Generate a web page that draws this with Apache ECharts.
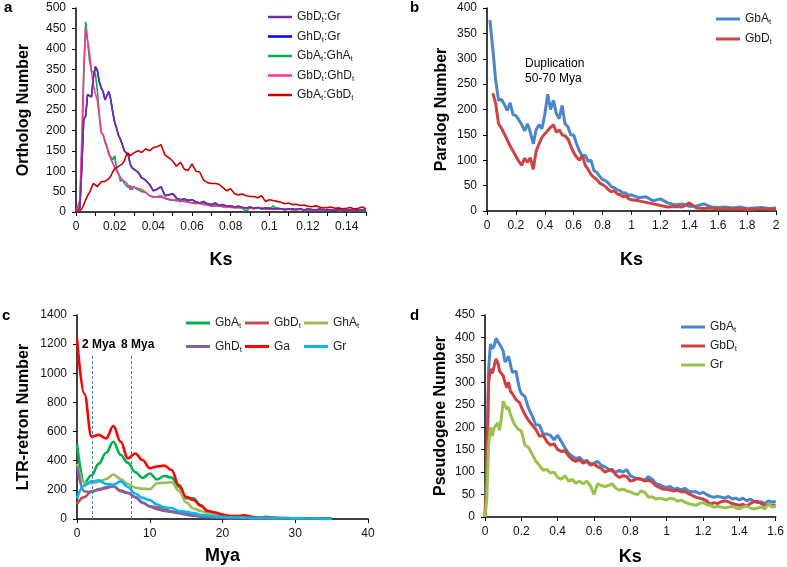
<!DOCTYPE html>
<html><head><meta charset="utf-8">
<script src="https://cdn.jsdelivr.net/npm/echarts@6/dist/echarts.min.js"></script>
<style>html,body{margin:0;padding:0;background:#fff}#c{width:787px;height:567px}</style>
</head><body><div id="c"></div>
<script>
// ---------- Panel a : Ortholog Ks ----------
const aKs = [0,0.001,0.002,0.003,0.004,0.005,0.006,0.007,0.008,0.009,0.010,0.011,0.012,0.013,0.014,0.015,0.016,0.017,0.018,0.019,0.020,0.021,0.022,0.023,0.024,0.025,0.026,0.027,0.028,0.029,0.030,
0.032,0.034,0.036,0.038,0.040,0.042,0.044,0.046,0.048,0.050,0.052,0.054,0.056,0.058,0.060,0.062,0.064,0.066,0.068,0.070,0.072,0.074,0.076,0.078,0.080,0.082,0.084,0.086,0.088,0.090,0.092,0.094,0.096,0.098,0.100,0.102,0.104,0.106,0.108,0.110,0.112,0.114,0.116,0.118,0.120,0.122,0.124,0.126,0.128,0.130,0.132,0.134,0.136,0.138,0.140,0.142,0.144,0.146,0.148,0.150];
const aGbDtGr = [0,0,10,110,228,235,288,292,282,330,356,348,320,305,295,275,285,295,275,245,220,205,188,178,165,150,150,140,118,108,112,
98,84,78,68,52,56,62,40,42,45,34,30,32,28,30,25,22,26,20,18,22,16,18,14,15,12,14,11,10,12,9,11,8,10,9,7,9,8,6,8,7,6,8,5,7,6,5,7,5,6,5,4,6,5,4,5,6,4,5,4];
const aGhDtGr = [0,0,10,110,228,235,288,292,282,330,356,348,320,305,295,275,285,295,275,245,220,205,188,178,165,150,150,140,118,108,112,
98,84,78,68,52,56,62,40,42,45,34,30,32,28,30,25,22,26,20,18,22,16,18,14,15,12,14,11,10,12,9,11,8,10,9,7,9,8,6,8,7,6,8,5,7,6,5,7,5,6,5,4,6,5,4,5,6,4,5,4];
const aGbAtGhAt = [0,0,20,150,330,466,420,370,345,345,340,300,240,195,190,170,160,140,135,128,138,105,95,75,80,70,68,60,65,55,62,
55,50,48,40,36,38,40,33,30,28,30,25,28,25,22,24,20,22,18,15,18,14,15,12,14,10,12,9,3,10,8,11,7,9,6,15,6,8,5,7,6,5,8,4,6,5,4,6,3,5,4,6,3,5,4,3,5,3,4,3];
const aGbDtGhDt = [0,0,30,180,350,450,420,390,345,310,290,275,240,195,190,175,160,145,130,120,110,100,92,85,78,80,72,65,55,62,66,
58,55,48,40,38,37,36,34,32,30,27,28,25,24,22,20,22,18,17,15,14,16,12,13,11,12,10,12,9,10,8,9,10,7,8,6,8,7,6,8,5,7,6,5,7,5,4,6,5,4,6,5,4,5,6,4,5,4,5,4];
const aGbAtGbDt = [0,0,3,8,18,30,40,48,50,70,66,62,65,74,72,75,78,82,88,98,106,108,112,110,118,125,140,145,138,142,145,
150,146,155,150,158,160,165,140,133,125,112,122,105,102,118,100,98,78,72,70,70,68,60,52,57,45,42,44,40,38,38,35,40,26,30,28,26,24,20,22,18,19,16,17,14,13,15,12,10,11,12,9,10,8,9,11,7,9,12,8];

// ---------- Panel b : Paralog Ks ----------
const bKs = [0.02,0.04,0.06,0.08,0.10,0.12,0.14,0.16,0.18,0.20,0.22,0.24,0.26,0.28,0.30,0.32,0.34,0.36,0.38,0.40,0.42,0.44,0.46,0.48,0.50,0.52,0.54,0.56,0.58,0.60,0.62,0.64,0.66,0.68,0.70,0.72,0.74,0.76,0.78,0.80,0.82,0.84,0.86,0.88,0.90,0.92,0.94,0.96,0.98,1.00,
1.05,1.10,1.15,1.20,1.25,1.30,1.35,1.40,1.45,1.50,1.55,1.60,1.65,1.70,1.75,1.80,1.85,1.90,1.95,2.00];
const bGbAt = [376,320,258,218,220,210,198,213,190,188,180,170,158,172,155,132,160,170,162,190,230,200,218,192,182,208,172,166,150,150,132,118,108,110,98,100,80,76,68,62,60,55,48,46,42,40,35,36,30,32,
26,28,20,24,16,12,14,9,10,14,8,7,8,6,8,5,6,7,5,6];
const bGbDt = [null,232,212,172,163,152,140,128,118,108,98,90,104,96,105,82,118,132,145,152,158,165,170,155,160,150,148,142,128,115,106,100,110,90,82,72,66,62,55,52,48,42,38,40,34,32,28,30,24,22,
20,17,14,11,8,9,8,16,6,5,6,4,5,4,5,3,4,5,4,4];

// ---------- Panel c : LTR-retron insertion time ----------
const cMya = [0,1,2,3,4,5,6,7,8,9,10,11,12,13,14,15,16,17,18,19,20,21,22,23,24,25,26,27,28,29,30,31,32,33,34,35];
const cGbAt = [515,250,300,380,455,530,440,385,322,282,312,272,295,284,222,142,142,96,52,38,25,20,20,15,12,10,14,8,6,5,4,4,3,3,2,2];
const cGbDt = [103,150,190,200,212,225,190,178,150,110,88,80,65,52,45,45,30,25,18,15,10,8,10,12,8,6,6,5,4,4,3,3,2,2,2,1];
const cGhAt = [377,250,245,255,275,305,275,240,215,208,205,245,248,252,195,115,72,55,40,28,20,15,12,10,10,8,15,8,5,4,3,3,3,2,2,2];
const cGhDt = [360,190,185,205,218,225,195,180,150,115,85,68,55,48,40,30,22,16,12,10,8,6,5,5,4,4,3,3,3,2,2,2,2,1,1,1];
const cGa = [1240,860,565,577,553,638,530,416,450,405,348,360,366,336,233,153,130,90,55,45,30,20,20,25,15,10,10,8,6,6,5,5,4,3,3,2];
const cGr = [142,230,258,265,240,235,258,220,175,145,130,100,80,75,55,50,40,28,22,18,15,12,12,10,8,8,7,6,5,5,4,4,3,3,2,2];
const cMarkers = [2.05, 7.45];
const cMarkerTop = 1125;

// ---------- Panel d : Pseudogene Ks ----------
const dKs = [0,0.01,0.02,0.03,0.04,0.05,0.06,0.07,0.08,0.09,0.10,0.11,0.12,0.13,0.14,0.15,0.16,0.17,0.18,0.19,0.20,
0.22,0.24,0.26,0.28,0.30,0.32,0.34,0.36,0.38,0.40,0.42,0.44,0.46,0.48,0.50,0.52,0.54,0.56,0.58,0.60,0.62,0.64,0.66,0.68,0.70,0.72,0.74,0.76,0.78,0.80,0.82,0.84,0.86,0.88,0.90,0.92,0.94,0.96,0.98,1.00,1.02,1.04,1.06,1.08,1.10,1.12,1.14,1.16,1.18,1.20,1.22,1.24,1.26,1.28,1.30,1.32,1.34,1.36,1.38,1.40,1.42,1.44,1.46,1.48,1.50,1.52,1.54,1.56,1.58,1.60];
const dGbAt = [0,120,330,385,375,380,398,402,385,378,370,345,352,358,340,322,318,325,305,285,275,
268,242,225,205,205,185,185,182,172,182,168,154,142,135,130,133,124,126,118,120,124,115,112,106,102,100,104,100,106,92,88,85,84,82,90,84,74,72,68,66,68,62,64,60,64,58,56,57,52,55,50,46,44,46,44,42,46,40,42,38,42,36,40,35,32,34,30,36,33,35];
const dGbDt = [0,100,300,330,320,335,352,345,325,320,315,300,288,300,280,275,272,262,258,255,245,
228,215,205,195,180,182,168,160,163,150,146,148,136,128,124,128,120,124,116,118,112,108,100,104,106,94,88,92,90,80,82,86,84,80,82,78,70,66,62,62,60,58,60,56,57,52,48,44,42,40,36,28,32,30,34,36,34,30,28,26,28,24,30,34,35,30,26,28,25,27];
const dGr = [0,40,160,200,180,198,200,210,193,220,258,255,240,245,228,230,208,210,196,195,192,
160,155,140,124,115,104,106,98,100,88,84,92,80,84,75,80,74,80,70,50,74,70,68,70,74,64,60,62,58,56,52,50,58,55,44,45,40,42,40,38,42,40,35,38,33,30,28,26,30,32,28,26,22,24,22,20,22,24,20,18,22,24,20,18,20,22,18,30,22,24];

// ---------- build ----------
const FF = 'Liberation Sans, Arial, sans-serif';
const pair = (xs, ys) => xs.map((x, i) => [x, ys[i]]);
function line(name, gi, xs, ys, color, width, smooth) {
  return { type: 'line', name: name, xAxisIndex: gi, yAxisIndex: gi, data: pair(xs, ys),
    symbol: 'none', showSymbol: false, smooth: smooth || false, smoothMonotone: smooth ? 'x' : undefined,
    lineStyle: { color: color, width: width }, itemStyle: { color: color }, emphasis: { disabled: true } };
}
const fmtLeg = n => n.split('|')[1].replace(/([AD])t/g, '$1{s|t}');
function leg(names, left, top, gap, thick) {
  return { data: names, left: left, top: top, orient: 'vertical', itemGap: gap, itemWidth: 24, itemHeight: thick,
    icon: 'rect', padding: 0, selectedMode: false, formatter: fmtLeg,
    textStyle: { color: '#222', fontSize: 12, fontFamily: FF, lineHeight: 14,
      rich: { s: { fontSize: 8, fontFamily: FF, color: '#222', lineHeight: 14, verticalAlign: 'bottom' } } } };
}
function xAx(gi, min, max, interval, name, gap, fmt) {
  return { type: 'value', gridIndex: gi, min: min, max: max, interval: interval, name: name,
    nameLocation: 'middle', nameGap: gap,
    nameTextStyle: { fontSize: 18, fontWeight: 'bold', color: '#000', fontFamily: FF },
    axisLine: { show: true, onZero: false, lineStyle: { color: '#000', width: 1.5 } },
    axisTick: { show: true, inside: false, length: 4, lineStyle: { color: '#000', width: 1 } },
    splitLine: { show: false },
    axisLabel: { color: '#111', fontSize: 12, fontFamily: FF, margin: 9, formatter: fmt || (v => String(v)), showMinLabel: true, showMaxLabel: true } };
}
function yAx(gi, max, interval, name, gap) {
  return { type: 'value', gridIndex: gi, min: 0, max: max, interval: interval, name: name,
    nameLocation: 'middle', nameGap: gap,
    nameTextStyle: { fontSize: 16, fontWeight: 'bold', color: '#000', fontFamily: FF },
    axisLine: { show: true, lineStyle: { color: '#000', width: 1.5 } },
    axisTick: { show: true, inside: false, length: 4, lineStyle: { color: '#000', width: 1 } },
    splitLine: { show: false },
    axisLabel: { color: '#111', fontSize: 12, fontFamily: FF, margin: 10, formatter: v => String(v) } };
}
const aFmt = v => { const k = Math.round(v * 1000); return k % 20 === 0 ? String(k / 1000) : ''; };

const series = [
  line('a|GhDt:Gr', 0, aKs, aGhDtGr, '#0000ff', 1.6),
  line('a|GbAt:GhAt', 0, aKs, aGbAtGhAt, '#00b050', 1.6),
  line('a|GbDt:GhDt', 0, aKs, aGbDtGhDt, '#ff3399', 1.6),
  line('a|GbDt:Gr', 0, aKs, aGbDtGr, '#7030a0', 1.6),
  line('a|GbAt:GbDt', 0, aKs, aGbAtGbDt, '#cc0000', 1.6),
  line('b|GbAt', 1, bKs, bGbAt, '#4a86c8', 3),
  line('b|GbDt', 1, bKs, bGbDt, '#cc4444', 3),
  line('c|GbAt', 2, cMya, cGbAt, '#00b050', 2.6, 0.4),
  line('c|GbDt', 2, cMya, cGbDt, '#c0504d', 2.6, 0.4),
  line('c|GhAt', 2, cMya, cGhAt, '#9bbb59', 2.6, 0.4),
  line('c|GhDt', 2, cMya, cGhDt, '#8064a2', 2.6, 0.4),
  line('c|Ga', 2, cMya, cGa, '#ff0000', 2.6, 0.4),
  line('c|Gr', 2, cMya, cGr, '#00b8f0', 2.6, 0.4),
  line('d|GbAt', 3, dKs, dGbAt, '#4a86cf', 3),
  line('d|GbDt', 3, dKs, dGbDt, '#d04040', 3),
  line('d|Gr', 3, dKs, dGr, '#98c24c', 3)
];
series[12].markLine = { silent: true, symbol: 'none', label: { show: false },
  lineStyle: { type: [3, 2], color: '#4f81bd', width: 1 },
  data: cMarkers.map(m => [{ coord: [m, 0] }, { coord: [m, cMarkerTop] }]) };

const txt = (t, left, top, font, lh) => ({ type: 'text', left: left, top: top, silent: true,
  style: { text: t, font: font, fill: '#000', lineHeight: lh } });

const option = {
  animation: false,
  backgroundColor: '#fff',
  grid: [
    { left: 76, top: 8, width: 290, height: 204 },
    { left: 487, top: 8, width: 289, height: 203 },
    { left: 77, top: 315, width: 291, height: 204 },
    { left: 485, top: 315, width: 293, height: 204 }
  ],
  xAxis: [
    xAx(0, 0, 0.15, 0.01, 'Ks', 39, aFmt),
    xAx(1, 0, 2, 0.2, 'Ks', 40),
    xAx(2, 0, 40, 10, 'Mya', 28),
    xAx(3, 0, 1.6, 0.2, 'Ks', 31)
  ],
  yAxis: [
    yAx(0, 500, 50, 'Ortholog Number', 44),
    yAx(1, 400, 50, 'Paralog Number', 37),
    yAx(2, 1400, 200, 'LTR-retron Number', 45),
    yAx(3, 450, 50, 'Pseudogene Number', 36)
  ],
  legend: [
    leg(['a|GbDt:Gr', 'a|GhDt:Gr', 'a|GbAt:GhAt', 'a|GbDt:GhDt', 'a|GbAt:GbDt'], 268, 10, 5.5, 2.5),
    leg(['b|GbAt', 'b|GbDt'], 716, 12, 6, 3),
    leg(['c|GbAt', 'c|GhDt'], 186, 316, 9.5, 3),
    leg(['c|GbDt', 'c|Ga'], 245, 316, 9.5, 3),
    leg(['c|GhAt', 'c|Gr'], 304, 316, 9.5, 3),
    leg(['d|GbAt', 'd|GbDt', 'd|Gr'], 681, 320, 5, 3)
  ],
  graphic: [
    txt('a', 4, 0, 'bold 15px ' + FF),
    txt('b', 410, 0, 'bold 15px ' + FF),
    txt('c', 2, 308, 'bold 15px ' + FF),
    txt('d', 410, 308, 'bold 15px ' + FF),
    txt('Duplication\n50-70 Mya', 525, 56, '12px ' + FF, 15),
    txt('2 Mya', 82, 339, 'bold 12px ' + FF),
    txt('8 Mya', 121, 339, 'bold 12px ' + FF)
  ],
  series: series
};
const chart = echarts.init(document.getElementById('c'), null, { renderer: 'canvas' });
chart.setOption(option);
</script></body></html>
